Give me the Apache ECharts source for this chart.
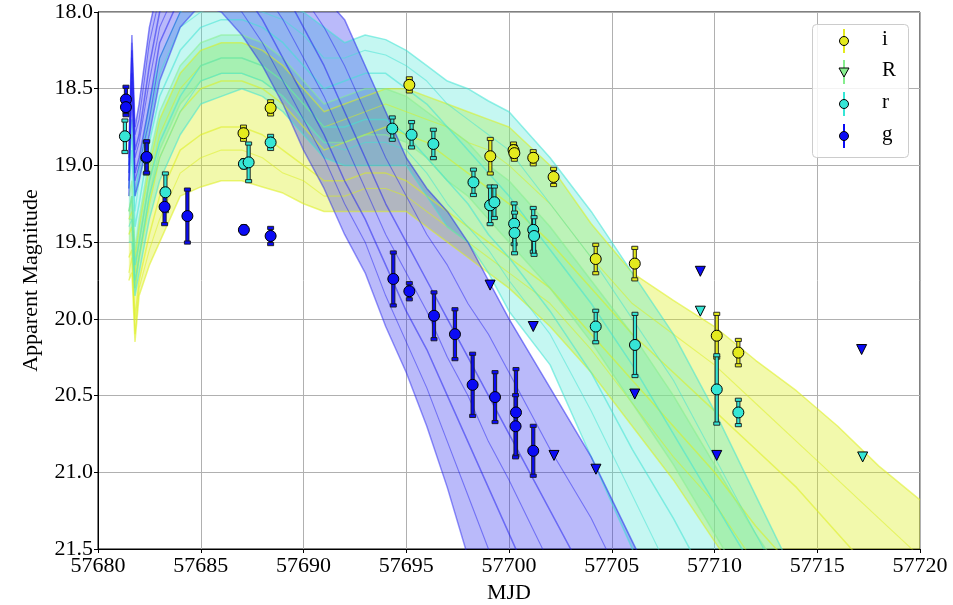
<!DOCTYPE html>
<html><head><meta charset="utf-8">
<script src="https://cdn.jsdelivr.net/npm/echarts@6/dist/echarts.min.js"></script>
<style>html,body{margin:0;padding:0;background:#fff}#c{width:953px;height:605px}</style>
</head><body><div id="c"></div>
<script>
// ---- model light-curve sample times (MJD) ----
const T = [57681.5, 57681.65, 57681.8, 57682.0, 57682.5, 57683, 57684, 57685, 57686, 57687, 57688, 57689, 57690, 57691, 57692, 57693, 57694, 57695, 57696, 57697, 57698, 57699, 57700, 57702, 57704, 57706, 57708, 57710, 57712, 57714, 57716, 57718, 57720];
// g-band model curves (bright edge -> faint edge)
const G1 = [18.9, 18.15, 18.75, 18.6, 18.1, 17.8, 17.5, 17.3, 17.2, 17.2, 17.3, 17.5, 17.7, 17.9, 18.05, 18.35, 18.65, 18.95, 19.15, 19.3, 19.5, 19.75, 20.0, 20.45, 20.9, 21.45, 22.0, 22.5, 23.0, 23.5, 24.0, 24.5, 25.0];
const G7 = [18.95, 18.2, 18.8, 18.7, 18.2, 17.9, 17.6, 17.4, 17.3, 17.35, 17.45, 17.65, 17.9, 18.1, 18.35, 18.65, 18.95, 19.2, 19.45, 19.65, 19.9, 20.1, 20.35, 20.85, 21.3, 21.85, 22.4, 22.9, 23.4, 23.9, 24.4, 24.9, 25.4];
const G2 = [19.0, 18.25, 18.9, 18.8, 18.35, 18.0, 17.7, 17.5, 17.45, 17.5, 17.65, 17.85, 18.1, 18.35, 18.65, 18.95, 19.25, 19.5, 19.75, 20.0, 20.25, 20.5, 20.75, 21.25, 21.75, 22.3, 22.8, 23.3, 23.8, 24.3, 24.8, 25.3, 25.8];
const G5 = [19.05, 18.3, 18.95, 18.85, 18.45, 18.1, 17.8, 17.6, 17.6, 17.65, 17.85, 18.05, 18.3, 18.55, 18.85, 19.15, 19.45, 19.7, 19.95, 20.25, 20.5, 20.8, 21.05, 21.6, 22.2, 22.8, 23.4, 24.0, 24.6, 25.2, 25.8, 26.4, 27.0];
const G3 = [19.1, 18.4, 19.05, 18.95, 18.6, 18.2, 17.9, 17.75, 17.75, 17.85, 18.05, 18.3, 18.55, 18.8, 19.1, 19.35, 19.65, 19.95, 20.2, 20.5, 20.8, 21.1, 21.4, 22.0, 22.6, 23.2, 23.8, 24.4, 25.0, 25.6, 26.2, 26.8, 27.4];
const G6 = [19.15, 18.45, 19.1, 19.0, 18.7, 18.3, 18.0, 17.85, 17.9, 18.0, 18.2, 18.45, 18.7, 18.95, 19.25, 19.5, 19.85, 20.15, 20.45, 20.8, 21.15, 21.5, 21.9, 22.6, 23.3, 24.0, 24.7, 25.4, 26.1, 26.8, 27.5, 28.2, 28.9];
const G4 = [19.2, 18.5, 19.2, 19.1, 18.8, 18.45, 18.1, 17.95, 18.0, 18.15, 18.35, 18.6, 18.9, 19.15, 19.45, 19.7, 20.05, 20.35, 20.7, 21.1, 21.55, 22.0, 22.4, 23.2, 24.0, 24.8, 25.6, 26.4, 27.2, 28.0, 28.8, 29.6, 30.4];
// r-band model curves
const R1 = [19.0, 18.7, 19.2, 19.0, 18.6, 18.3, 18.0, 17.9, 17.85, 17.85, 17.9, 17.95, 18.0, 18.1, 18.2, 18.15, 18.18, 18.25, 18.35, 18.45, 18.5, 18.58, 18.65, 18.95, 19.3, 19.7, 20.1, 20.6, 21.15, 21.7, 22.2, 22.7, 23.2];
const R5 = [19.05, 18.8, 19.3, 19.1, 18.7, 18.4, 18.1, 18.0, 17.95, 17.95, 18.0, 18.05, 18.15, 18.3, 18.3, 18.25, 18.28, 18.35, 18.45, 18.6, 18.7, 18.8, 18.9, 19.25, 19.6, 20.0, 20.4, 20.9, 21.4, 21.9, 22.4, 22.9, 23.4];
const R2 = [19.15, 18.9, 19.4, 19.25, 18.85, 18.55, 18.25, 18.1, 18.05, 18.05, 18.1, 18.2, 18.35, 18.5, 18.45, 18.4, 18.4, 18.5, 18.6, 18.75, 18.9, 19.05, 19.2, 19.55, 19.9, 20.3, 20.75, 21.2, 21.65, 22.1, 22.6, 23.1, 23.6];
const R3 = [19.3, 19.2, 19.65, 19.5, 19.1, 18.85, 18.55, 18.35, 18.3, 18.3, 18.35, 18.45, 18.6, 18.75, 18.75, 18.7, 18.7, 18.8, 18.95, 19.1, 19.25, 19.45, 19.6, 19.95, 20.35, 20.85, 21.3, 21.8, 22.3, 22.8, 23.3, 23.8, 24.3];
const R6 = [19.4, 19.35, 19.75, 19.6, 19.2, 18.95, 18.65, 18.45, 18.4, 18.4, 18.45, 18.55, 18.7, 18.85, 18.9, 18.85, 18.85, 18.9, 19.05, 19.25, 19.4, 19.55, 19.75, 20.1, 20.6, 21.15, 21.7, 22.2, 22.7, 23.2, 23.7, 24.2, 24.7];
const R4 = [19.5, 19.5, 19.85, 19.7, 19.35, 19.1, 18.8, 18.6, 18.55, 18.5, 18.55, 18.65, 18.8, 18.95, 19.0, 19.0, 19.0, 19.0, 19.2, 19.4, 19.5, 19.7, 19.95, 20.3, 20.9, 21.5, 22.1, 22.7, 23.3, 23.9, 24.5, 25.1, 25.7];
// R-band model curves
const N1 = [19.2, 19.1, 19.55, 19.35, 18.95, 18.65, 18.35, 18.2, 18.15, 18.15, 18.2, 18.3, 18.45, 18.6, 18.55, 18.5, 18.5, 18.55, 18.65, 18.75, 18.85, 19.0, 19.1, 19.4, 19.75, 20.1, 20.5, 20.95, 21.4, 21.8, 22.2, 22.6, 23.0];
const N2 = [19.35, 19.35, 19.8, 19.6, 19.2, 18.9, 18.6, 18.45, 18.4, 18.4, 18.45, 18.55, 18.7, 18.85, 18.85, 18.8, 18.8, 18.85, 18.95, 19.1, 19.2, 19.35, 19.5, 19.8, 20.15, 20.55, 20.95, 21.4, 21.85, 22.3, 22.7, 23.1, 23.5];
// i-band model curves
const I1 = [19.3, 19.2, 19.6, 19.4, 19.0, 18.7, 18.4, 18.25, 18.2, 18.2, 18.25, 18.35, 18.5, 18.65, 18.6, 18.55, 18.5, 18.5, 18.55, 18.6, 18.65, 18.7, 18.75, 19.0, 19.38, 19.7, 19.88, 20.05, 20.27, 20.47, 20.7, 20.96, 21.18];
const I5 = [19.35, 19.3, 19.7, 19.5, 19.1, 18.8, 18.5, 18.35, 18.3, 18.3, 18.35, 18.45, 18.6, 18.75, 18.7, 18.65, 18.6, 18.65, 18.7, 18.75, 18.85, 18.9, 19.0, 19.25, 19.6, 19.9, 20.1, 20.3, 20.55, 20.8, 21.05, 21.3, 21.55];
const I2 = [19.45, 19.4, 19.8, 19.6, 19.25, 18.95, 18.65, 18.5, 18.45, 18.45, 18.5, 18.6, 18.75, 18.9, 18.85, 18.8, 18.75, 18.8, 18.85, 18.95, 19.05, 19.15, 19.25, 19.5, 19.8, 20.1, 20.35, 20.6, 20.85, 21.1, 21.4, 21.7, 22.0];
const I3 = [19.6, 19.55, 20.0, 19.75, 19.45, 19.2, 18.9, 18.8, 18.75, 18.75, 18.8, 18.9, 19.0, 19.1, 19.1, 19.05, 19.05, 19.1, 19.2, 19.3, 19.4, 19.5, 19.6, 19.8, 20.1, 20.4, 20.7, 21.0, 21.35, 21.65, 22.0, 22.3, 22.6];
const I6 = [19.7, 19.6, 20.1, 19.8, 19.55, 19.35, 19.05, 18.95, 18.9, 18.9, 18.95, 19.05, 19.1, 19.2, 19.2, 19.15, 19.15, 19.2, 19.3, 19.4, 19.5, 19.6, 19.7, 19.9, 20.2, 20.55, 20.9, 21.2, 21.6, 21.95, 22.3, 22.6, 23.0];
const I4 = [19.75, 19.7, 20.15, 19.85, 19.65, 19.5, 19.2, 19.14, 19.1, 19.1, 19.14, 19.18, 19.25, 19.3, 19.3, 19.3, 19.3, 19.3, 19.4, 19.5, 19.6, 19.7, 19.8, 20.05, 20.35, 20.7, 21.05, 21.45, 21.85, 22.2, 22.6, 23.0, 23.4];

// ---- observations ----
const gT = [57681.36, 57681.36, 57682.37, 57683.24, 57684.35, 57687.10, 57688.40, 57694.37, 57695.15, 57696.35, 57697.37, 57698.23, 57699.32, 57700.34, 57700.32, 57701.18];
const gM = [18.57, 18.62, 18.945, 19.27, 19.33, 19.42, 19.46, 19.74, 19.82, 19.98, 20.10, 20.43, 20.51, 20.61, 20.70, 20.86];
const gE = [0.08, 0.05, 0.10, 0.11, 0.17, 0.02, 0.05, 0.17, 0.05, 0.15, 0.16, 0.20, 0.16, 0.28, 0.20, 0.16];
const rT = [57681.31, 57682.35, 57683.28, 57687.10, 57687.33, 57688.40, 57694.32, 57695.26, 57696.32, 57698.27, 57699.08, 57699.29, 57700.25, 57700.27, 57701.18, 57701.22, 57704.22, 57706.13, 57710.11, 57711.16];
const rM = [18.81, 18.95, 19.175, 18.99, 18.98, 18.85, 18.76, 18.80, 18.86, 19.11, 19.26, 19.24, 19.38, 19.44, 19.42, 19.46, 20.05, 20.17, 20.46, 20.61];
const rE = [0.10, 0.10, 0.12, 0.02, 0.12, 0.04, 0.07, 0.08, 0.09, 0.08, 0.12, 0.10, 0.13, 0.13, 0.14, 0.12, 0.10, 0.20, 0.22, 0.08];
const iT = [57687.08, 57688.40, 57695.15, 57699.09, 57700.22, 57700.26, 57701.18, 57702.17, 57704.22, 57706.12, 57710.11, 57711.16];
const iM = [18.79, 18.625, 18.475, 18.94, 18.90, 18.92, 18.95, 19.075, 19.61, 19.64, 20.11, 20.22];
const iE = [0.04, 0.04, 0.04, 0.11, 0.04, 0.04, 0.04, 0.05, 0.09, 0.10, 0.14, 0.08];
// upper limits
const gLimT = [57699.08, 57701.18, 57702.19, 57704.23, 57706.12, 57709.31, 57710.11, 57717.16];
const gLimM = [19.78, 20.05, 20.89, 20.98, 20.49, 19.69, 20.89, 20.20];
const RLimT = [57709.31, 57717.21];
const RLimM = [19.95, 20.90];

const xTicks = {min: 57680, max: 57720, step: 5};
const yTicks = {min: 18.0, max: 21.5, step: 0.5};
const legendLabels = ['i', 'R', 'r', 'g'];

const C = {g: '#1a1af0', r: '#3fe3d3', R: '#86ee8e', i: '#dcef1a'};
const CM = {g: '#0b0bf5', r: '#36e6d6', R: '#7fe07f', i: '#e4ea1e'};
const FONT = 'Liberation Serif';

function pairs(arr) { return T.map((t, k) => [t, arr[k]]); }
function bandSeries(B, F, color, op) {
  return {
    type: 'custom', coordinateSystem: 'cartesian2d', clip: true, silent: true, z: 1,
    data: [[T[0], B[0]]],
    renderItem: function (params, api) {
      const pts = [];
      for (let k = 0; k < T.length; k++) pts.push(api.coord([T[k], B[k]]));
      for (let k = T.length - 1; k >= 0; k--) pts.push(api.coord([T[k], F[k]]));
      const cs = params.coordSys;
      return {type: 'group', children: [{type: 'polygon', shape: {points: pts}, style: {fill: color, opacity: op}}],
        clipPath: {type: 'rect', shape: {x: cs.x, y: cs.y, width: cs.width, height: cs.height}}};
    }
  };
}
function lineSeries(arr, color, op, w) {
  return {type: 'line', data: pairs(arr), showSymbol: false, silent: true, z: 1, clip: true,
    lineStyle: {color: color, width: w || 1.5, opacity: op}, itemStyle: {color: color}};
}
function errSeries(X, M, E, color) {
  return {
    type: 'custom', coordinateSystem: 'cartesian2d', z: 3, silent: true,
    data: X.map((t, k) => [t, M[k], E[k]]), encode: {x: 0, y: 1},
    renderItem: function (params, api) {
      const x = api.value(0), m = api.value(1), e = api.value(2);
      const a = api.coord([x, m - e]), b = api.coord([x, m + e]);
      const cx = a[0];
      const st = {fill: color, stroke: '#1a1a1a', lineWidth: 0.9};
      return {type: 'group', children: [
        {type: 'rect', shape: {x: cx - 1.6, y: a[1], width: 3.2, height: Math.max(b[1] - a[1], 0.1)}, style: st},
        {type: 'rect', shape: {x: cx - 3, y: a[1] - 2, width: 6, height: 3.2}, style: st},
        {type: 'rect', shape: {x: cx - 3, y: b[1] - 1.2, width: 6, height: 3.2}, style: st}
      ]};
    }
  };
}
function ptSeries(X, M, color, sym) {
  return {type: 'scatter', z: 4, silent: true, data: X.map((t, k) => [t, M[k]]),
    symbol: sym || 'circle', symbolSize: sym ? 10 : 11, symbolRotate: sym ? 180 : 0,
    itemStyle: {color: color, borderColor: '#000', borderWidth: 1, opacity: 1}};
}

const series = [
  bandSeries(I1, I4, C.i, 0.36),
  lineSeries(I1, C.i, 0.55), lineSeries(I5, C.i, 0.5, 1.1), lineSeries(I2, C.i, 0.55), lineSeries(I3, C.i, 0.55), lineSeries(I6, C.i, 0.5, 1.1), lineSeries(I4, C.i, 0.55),
  bandSeries(N1, N2, C.R, 0.28),
  lineSeries(N1, C.R, 0.55), lineSeries(N2, C.R, 0.55),
  bandSeries(R1, R4, C.r, 0.3),
  lineSeries(R1, C.r, 0.55), lineSeries(R5, C.r, 0.5, 1.1), lineSeries(R2, C.r, 0.55), lineSeries(R3, C.r, 0.55), lineSeries(R6, C.r, 0.5, 1.1), lineSeries(R4, C.r, 0.55),
  bandSeries(G1, G4, C.g, 0.3),
  lineSeries(G1, C.g, 0.5), lineSeries(G7, C.g, 0.45, 1.1), lineSeries(G2, C.g, 0.5), lineSeries(G5, C.g, 0.45, 1.1), lineSeries(G3, C.g, 0.5), lineSeries(G6, C.g, 0.45, 1.1), lineSeries(G4, C.g, 0.45),
  errSeries(iT, iM, iE, CM.i), errSeries(rT, rM, rE, CM.r), errSeries(gT, gM, gE, CM.g),
  ptSeries(iT, iM, CM.i), ptSeries(rT, rM, CM.r), ptSeries(gT, gM, CM.g),
  ptSeries(gLimT, gLimM, CM.g, 'triangle'), ptSeries(RLimT, RLimM, CM.r, 'triangle')
];

// legend drawn with graphic elements
const legCols = [CM.i, C.R, CM.r, CM.g];
const legY = [41, 72, 104, 136];
const gfx = [{type: 'rect', left: 812, top: 24, shape: {width: 96, height: 133, r: 4}, style: {fill: 'rgba(255,255,255,0.85)', stroke: '#cccccc', lineWidth: 1}, z: 50}];
legendLabels.forEach((lab, k) => {
  const y = legY[k], x = 844;
  gfx.push({type: 'line', shape: {x1: x, y1: y - 12, x2: x, y2: y + 12}, style: {stroke: legCols[k], lineWidth: 2}, z: 51});
  if (lab === 'R') {
    gfx.push({type: 'polygon', shape: {points: [[x - 5, y - 4], [x + 5, y - 4], [x, y + 5]]}, style: {fill: legCols[k], stroke: '#000', lineWidth: 1}, z: 52});
  } else {
    gfx.push({type: 'circle', shape: {cx: x, cy: y, r: 4.5}, style: {fill: legCols[k], stroke: '#000', lineWidth: 1}, z: 52});
  }
  gfx.push({type: 'text', left: 882, top: y - 12, style: {text: lab, font: '21px "Liberation Serif"', fill: '#000'}, z: 52});
});

const chart = echarts.init(document.getElementById('c'), null, {renderer: 'canvas'});
chart.setOption({
  animation: false,
  backgroundColor: '#fff',
  grid: {left: 98, right: 33, top: 12, bottom: 56, show: true, borderColor: '#000', borderWidth: 1, backgroundColor: 'transparent', containLabel: false, outerBoundsMode: 'none'},
  xAxis: {type: 'value', min: xTicks.min, max: xTicks.max, interval: xTicks.step,
    name: 'MJD', nameLocation: 'middle', nameGap: 31, nameTextStyle: {fontFamily: FONT, fontSize: 22, color: '#000'},
    axisLine: {show: true, lineStyle: {color: '#000'}}, axisTick: {show: true, inside: false, length: 4, lineStyle: {color: '#000'}},
    axisLabel: {fontFamily: FONT, fontSize: 22, color: '#000', margin: 6, formatter: v => String(v)},
    splitLine: {show: true, lineStyle: {color: '#b0b0b0', width: 1}}},
  yAxis: {type: 'value', min: yTicks.min, max: yTicks.max, interval: yTicks.step, inverse: true,
    name: 'Apparent Magnitude', nameLocation: 'middle', nameGap: 56, nameRotate: 90, nameTextStyle: {fontFamily: FONT, fontSize: 22, color: '#000'},
    axisLine: {show: true, lineStyle: {color: '#000'}}, axisTick: {show: true, inside: false, length: 4, lineStyle: {color: '#000'}},
    axisLabel: {fontFamily: FONT, fontSize: 22, color: '#000', margin: 5, formatter: v => v.toFixed(1)},
    splitLine: {show: true, lineStyle: {color: '#b0b0b0', width: 1}}},
  series: series,
  graphic: gfx
});
</script></body></html>
